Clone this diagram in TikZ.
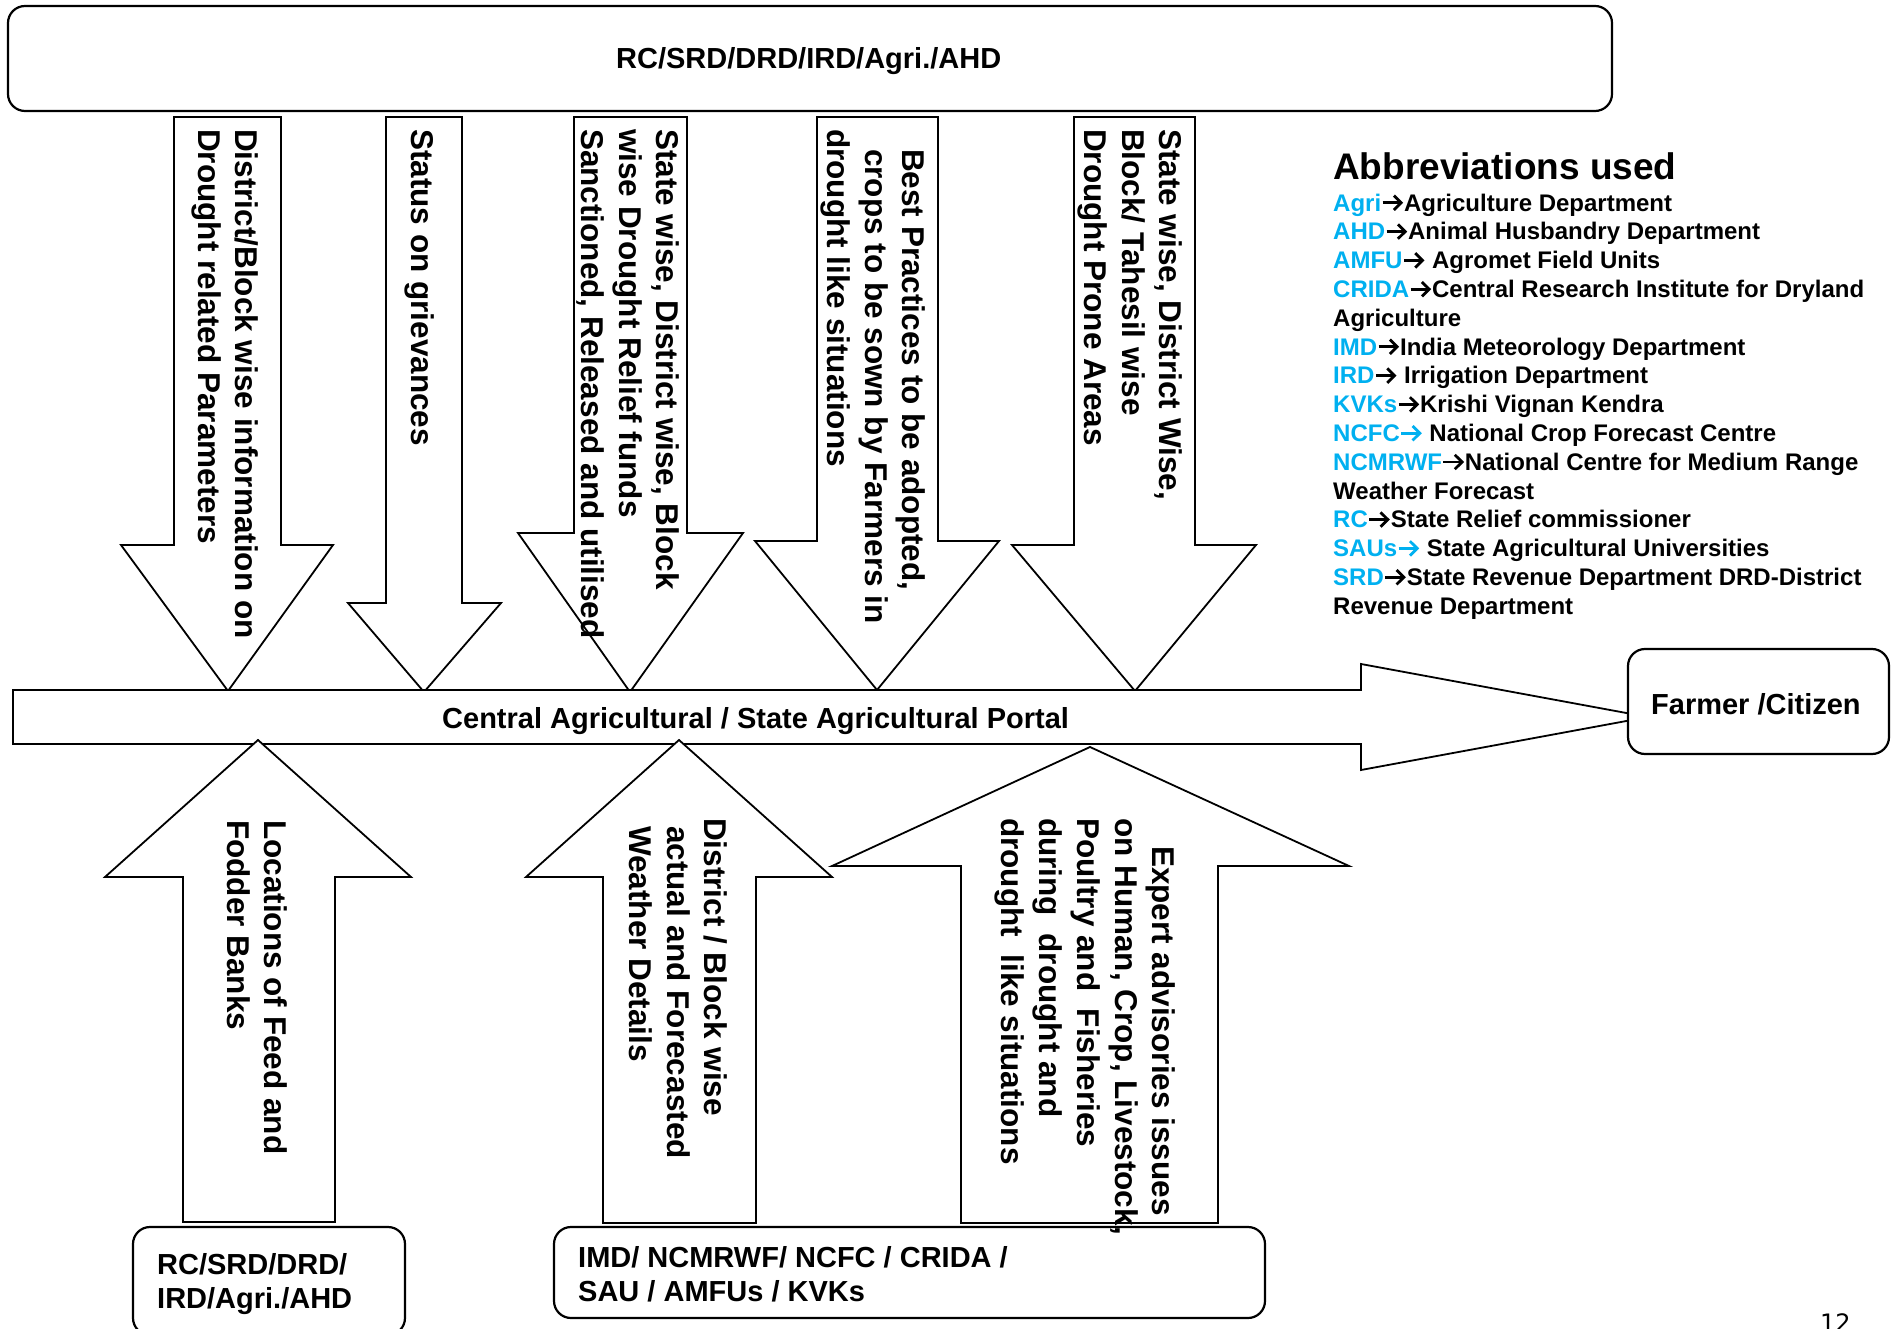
\documentclass[tikz,border=0pt]{standalone}
\usepackage{fontspec}
\setmainfont{Liberation Sans}
\newfontfamily\pagenumfont{DejaVu Sans}
\definecolor{abbrblue}{HTML}{00B0F0}
\newcommand{\abbrv}[1]{\textcolor{abbrblue}{#1}}
\newcommand{\rarr}[1][black]{\tikz[baseline=0pt]{%
  \path (0bp,0bp) rectangle (22.5bp,17bp);
  \draw[draw=#1,line width=2.8bp,line cap=butt] (1bp,8.4bp) -- (19bp,8.4bp);
  \draw[draw=#1,line width=2.8bp,line join=miter,line cap=butt] (12.3bp,15.6bp) -- (19.6bp,8.4bp) -- (12.3bp,1.2bp);}}
\begin{document}
\begin{tikzpicture}[x=1bp,y=-1bp,line join=miter,
  shp/.style={draw=black,line width=1.8bp,fill=white},
  rbox/.style={draw=black,line width=2.2bp,rounded corners=17bp,fill=white},
  vtext/.style={rotate=-90,anchor=north west,inner sep=0pt,align=left,
    font=\bfseries\fontsize{31.5bp}{37.8bp}\selectfont},
  btext/.style={inner sep=0pt,align=left,font=\bfseries\fontsize{29bp}{34.5bp}\selectfont},
  abtext/.style={inner sep=0pt,align=left,font=\bfseries\fontsize{24bp}{28.8bp}\selectfont}]
\useasboundingbox (0,0) rectangle (1891,1329);
\fill[white] (0,0) rectangle (1891,1329);

% top source box
\draw[rbox] (8,6) rectangle (1612,111);

% down arrows
\draw[shp] (174,117) -- (281,117) -- (281,545) -- (333,545) -- (228,691) -- (121,545) -- (174,545) -- cycle;
\draw[shp] (386,117) -- (462,117) -- (462,603) -- (501,603) -- (424,692) -- (348,603) -- (386,603) -- cycle;
\draw[shp] (574,117) -- (687,117) -- (687,533) -- (743,533) -- (630,692) -- (518,533) -- (574,533) -- cycle;
\draw[shp] (817,117) -- (938,117) -- (938,541) -- (999,541) -- (877,690) -- (755,541) -- (817,541) -- cycle;
\draw[shp] (1074,117) -- (1195,117) -- (1195,545) -- (1256,545) -- (1135,691) -- (1012,545) -- (1074,545) -- cycle;

% portal arrow
\draw[shp] (13,690) -- (1361,690) -- (1361,664) -- (1648,717) -- (1361,770) -- (1361,744) -- (13,744) -- cycle;

% up arrows
\draw[shp] (183,1222) -- (183,877) -- (105,877) -- (258,740) -- (411,877) -- (335,877) -- (335,1222) -- cycle;
\draw[shp] (603,1223) -- (603,877) -- (526,877) -- (679,740) -- (832,877) -- (756,877) -- (756,1223) -- cycle;
\draw[shp] (961,1223) -- (961,866) -- (832,866) -- (1090,747) -- (1349,866) -- (1218,866) -- (1218,1223) -- cycle;

% boxes
\draw[rbox] (1628,649) rectangle (1889,754);
\draw[rbox] (133,1227) rectangle (405,1335);
\draw[rbox] (554,1227) rectangle (1265,1318);

% box texts
\node[btext,anchor=base west] (ttop) at (616,69) {RC/SRD/DRD/IRD/Agri./AHD};
\node[btext,anchor=base west] (portal) at (442,728) {Central Agricultural / State Agricultural Portal};
\node[btext,anchor=base west] (farmer) at (1651,714) {Farmer /Citizen};
\node[btext,anchor=north west] (srcl) at (157,1253) {RC/SRD/DRD/\\IRD/Agri./AHD};
\node[btext,anchor=north west] (srcr) at (578,1246) {IMD/ NCMRWF/ NCFC / CRIDA /\\SAU / AMFUs / KVKs};

% arrow texts
\node[vtext] (d1) at (259,129) {District/Block wise information on\\Drought related Parameters};
\node[vtext] (d2) at (435,129) {Status on grievances};
\node[vtext] (d3) at (680,129) {State wise, District wise, Block\\wise Drought Relief funds\\Sanctioned, Released and utilised};
\node[vtext] (d4) at (926,129) {\hspace*{20bp}Best Practices to be adopted,\\\hspace*{20bp}crops to be sown by Farmers in\\drought like situations};
\node[vtext] (d5) at (1183,129) {State wise, District Wise,\\Block/ Tahesil wise\\Drought Prone Areas};
\node[vtext] (u1) at (288,820) {Locations of Feed and\\Fodder Banks};
\node[vtext] (u2) at (728,818) {District / Block wise\\\hspace*{8bp}actual and Forecasted\\\hspace*{8bp}Weather Details};
\node[vtext] (u3) at (1176,818) {\hspace*{28bp}Expert advisories issues\\on Human, Crop, Livestock,\\Poultry and\ \ Fisheries\\during\ \ drought and\\drought\ \ like situations};

% abbreviations
\node[inner sep=0pt,anchor=base west,font=\bfseries\fontsize{37bp}{44bp}\selectfont] (abtitle) at (1333,180) {Abbreviations used};
\node[abtext,anchor=north west] (ablist) at (1333,193.6) {%
\abbrv{Agri}\rarr Agriculture Department\\
\abbrv{AHD}\rarr Animal Husbandry Department\\
\abbrv{AMFU}\rarr\ Agromet Field Units\\
\abbrv{CRIDA}\rarr Central Research Institute for Dryland\\
Agriculture\\
\abbrv{IMD}\rarr India Meteorology Department\\
\abbrv{IRD}\rarr\ Irrigation Department\\
\abbrv{KVKs}\rarr Krishi Vignan Kendra\\
\abbrv{NCFC}\rarr[abbrblue]\ National Crop Forecast Centre\\
\abbrv{NCMRWF}\rarr National Centre for Medium Range\\
Weather Forecast\\
\abbrv{RC}\rarr State Relief commissioner\\
\abbrv{SAUs}\rarr[abbrblue]\ State Agricultural Universities\\
\abbrv{SRD}\rarr State Revenue Department DRD-District\\
Revenue Department};

% page number
\node[inner sep=0pt,anchor=north west,font=\pagenumfont\fontsize{24bp}{28bp}\selectfont] (pgnum) at (1820,1313) {12};
\end{tikzpicture}
\end{document}
